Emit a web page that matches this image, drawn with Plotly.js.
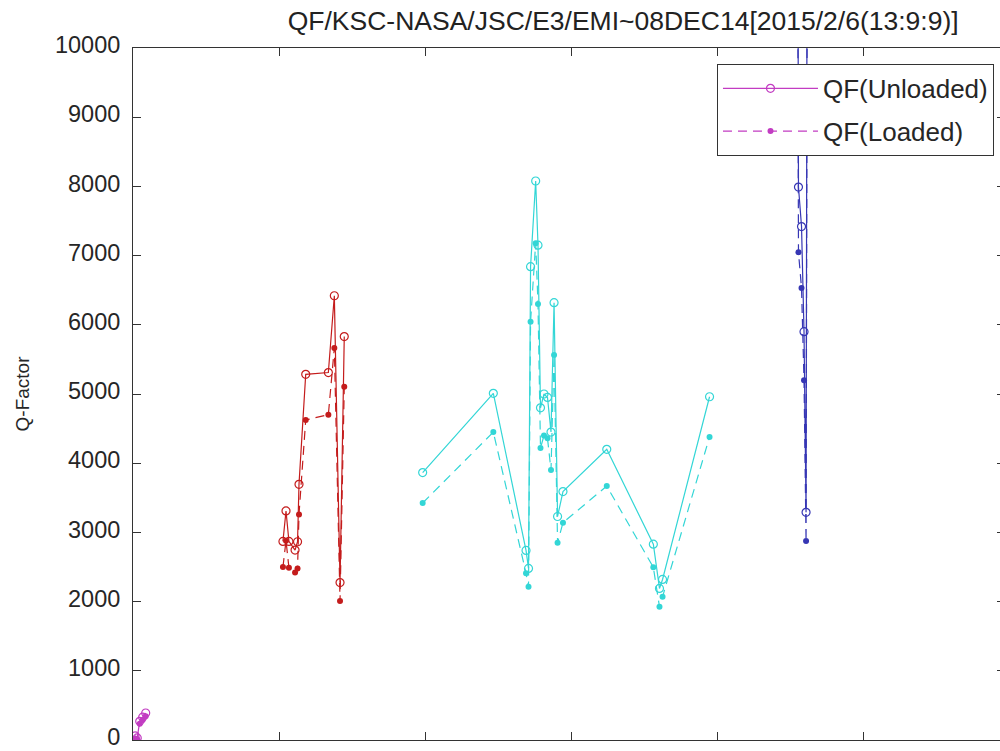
<!DOCTYPE html>
<html>
<head>
<meta charset="utf-8">
<script src="https://cdn.plot.ly/plotly-3.0.1.min.js"></script>
<style>
  html, body { margin: 0; padding: 0; background: #fff; overflow: hidden; }
  #chart { width: 1010px; height: 751px; }
</style>
</head>
<body>
<div id="chart"></div>
<script>
// ---- data ----
const chartTitle = "QF/KSC-NASA/JSC/E3/EMI~08DEC14[2015/2/6(13:9:9)]";
const yLabel = "Q-Factor";
const legendNames = ["QF(Unloaded)", "QF(Loaded)"];

const magentaX        = [0.14, 0.29, 0.46, 0.66, 0.87];
const magentaUnloaded = [60, 30, 270, 330, 390];
const magentaLoaded   = [20, 10, 235, 290, 345];

const redX        = [10.27, 10.48, 10.68, 11.10, 11.27, 11.37, 11.83, 13.38, 13.79, 14.18, 14.47];
const redUnloaded = [2870, 3310, 2870, 2745, 2865, 3695, 5285, 5310, 6420, 2275, 5830];
const redLoaded   = [2500, 2880, 2490, 2420, 2480, 3260, 4625, 4700, 5665, 2010, 5105];

const cyanX        = [19.84, 24.68, 26.92, 27.09, 27.23, 27.58, 27.74, 27.91, 28.15, 28.39, 28.63, 28.84, 29.08, 29.45, 32.45, 35.64, 36.06, 36.27, 39.49];
const cyanUnloaded = [3865, 5010, 2740, 2480, 6840, 8078, 7150, 4800, 5000, 4950, 4450, 6320, 3230, 3590, 4200, 2830, 2190, 2320, 4960];
const cyanLoaded   = [3425, 4450, 2410, 2215, 6045, 7180, 6300, 4220, 4400, 4360, 3900, 5563, 2850, 3140, 3670, 2495, 1925, 2070, 4380];

const blueX        = [45.51, 45.58, 45.79, 45.96, 46.10, 46.20];
const blueUnloaded = [14500, 7990, 7420, 5900, 3290, 15000];
const blueLoaded   = [12800, 7050, 6530, 5200, 2875, 13200];

const yTicks = [0, 1000, 2000, 3000, 4000, 5000, 6000, 7000, 8000, 9000, 10000];
const xTicks = [0, 10, 20, 30, 40, 50, 60];

// ---- styling ----
const colors = { m: "#c23cc2", r: "#c41c1c", c: "#33d6d6", b: "#3636b4" };

function unloadedTrace(x, y, color, show) {
  return {
    x: x, y: y, type: "scatter", mode: "lines+markers",
    name: legendNames[0], showlegend: show, legendgroup: "u",
    line: { color: color, width: 1.2 },
    marker: { symbol: "circle-open", size: 8, color: color, line: { width: 1.2, color: color } }
  };
}
function loadedTrace(x, y, color, show) {
  return {
    x: x, y: y, type: "scatter", mode: "lines+markers",
    name: legendNames[1], showlegend: show, legendgroup: "l",
    line: { color: color, width: 1.2, dash: "9px,6px" },
    marker: { symbol: "circle", size: 6, color: color }
  };
}

const traces = [
  unloadedTrace(magentaX, magentaUnloaded, colors.m, true),
  loadedTrace(magentaX, magentaLoaded, colors.m, true),
  unloadedTrace(redX, redUnloaded, colors.r, false),
  loadedTrace(redX, redLoaded, colors.r, false),
  unloadedTrace(cyanX, cyanUnloaded, colors.c, false),
  loadedTrace(cyanX, cyanLoaded, colors.c, false),
  unloadedTrace(blueX, blueUnloaded, colors.b, false),
  loadedTrace(blueX, blueLoaded, colors.b, false)
];

const axisColor = "#333333";
const layout = {
  width: 1010, height: 751,
  margin: { l: 133, r: 5, t: 48, b: 11 },
  paper_bgcolor: "#ffffff", plot_bgcolor: "#ffffff",
  font: { family: "Liberation Sans, Arial, sans-serif", color: "#262626", size: 24 },
  title: {
    text: chartTitle, font: { size: 26.5, color: "#222222" },
    xref: "container", x: 0.617, xanchor: "center",
    yref: "container", y: 0.972, yanchor: "middle"
  },
  xaxis: {
    range: [0, 59.726], tickvals: xTicks, showticklabels: false,
    ticks: "inside", ticklen: 8, tickcolor: axisColor, tickwidth: 1,
    showline: true, linecolor: axisColor, linewidth: 1, mirror: "ticks",
    showgrid: false, zeroline: false
  },
  yaxis: {
    range: [0, 10000], tickvals: yTicks, ticktext: yTicks.map(String),
    ticks: "inside", ticklen: 8, tickcolor: axisColor, tickwidth: 1,
    showline: true, linecolor: axisColor, linewidth: 1, mirror: "ticks",
    showgrid: false, zeroline: false, ticklabelstandoff: 7,
    ticklabeloverflow: "allow", ticklabelshift: -3,
    tickfont: { size: 23.5, color: "#262626" },
    title: { text: yLabel, font: { size: 19, color: "#262626" }, standoff: 20 }
  },
  showlegend: true,
  legend: {
    x: 0.6697, y: 0.977, xanchor: "left", yanchor: "top",
    bgcolor: "#ffffff", bordercolor: "#333333", borderwidth: 1,
    font: { size: 26, color: "#262626" },
    itemwidth: 95, traceorder: "grouped", tracegroupgap: 6
  }
};

Plotly.newPlot("chart", traces, layout, { staticPlot: true, displayModeBar: false });
</script>
</body>
</html>
